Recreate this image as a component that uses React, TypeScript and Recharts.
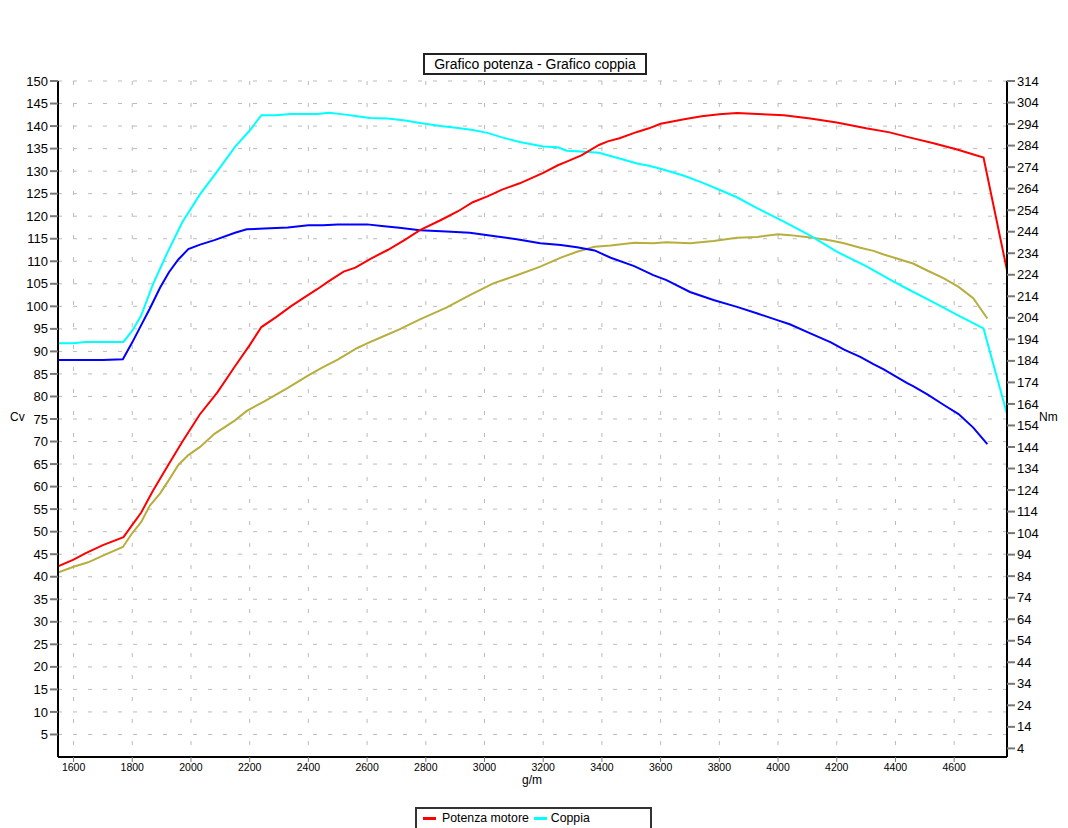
import { LineChart, Line, XAxis, YAxis, CartesianGrid } from 'recharts'

// run 1 (red / cyan)
const run1Rpm = [1547, 1600, 1640, 1700, 1770, 1800, 1830, 1870, 1920, 1970, 2030, 2090, 2150, 2200, 2240, 2290, 2340, 2380, 2430, 2470, 2520, 2560, 2610, 2670, 2730, 2780, 2850, 2910, 2960, 3010, 3060, 3120, 3200, 3250, 3280, 3330, 3390, 3420, 3460, 3520, 3560, 3600, 3680, 3740, 3800, 3860, 3930, 4020, 4110, 4200, 4300, 4380, 4440, 4530, 4610, 4700, 4780]
const run1Potenza = [42.3, 43.8, 45.2, 47.0, 48.8, 51.5, 54.2, 59.0, 64.5, 69.9, 76.0, 80.9, 86.7, 91.4, 95.4, 97.6, 100.0, 101.7, 103.8, 105.6, 107.7, 108.6, 110.5, 112.5, 114.8, 116.9, 119.1, 121.1, 123.1, 124.4, 125.9, 127.3, 129.6, 131.3, 132.1, 133.5, 135.8, 136.6, 137.3, 138.7, 139.5, 140.5, 141.5, 142.2, 142.6, 142.9, 142.7, 142.4, 141.7, 140.8, 139.5, 138.6, 137.6, 136.2, 134.8, 133.0, 108.0]
const run1Coppia = [192.2, 192.2, 192.8, 192.8, 192.8, 198.0, 204.9, 219.4, 234.4, 248.3, 261.2, 272.1, 283.4, 291.0, 298.1, 298.1, 298.7, 298.7, 298.7, 299.3, 298.5, 297.7, 296.8, 296.6, 295.6, 294.5, 293.1, 292.2, 291.2, 289.9, 287.8, 285.7, 283.6, 283.2, 281.6, 281.3, 280.7, 279.5, 278.0, 275.7, 274.6, 273.2, 270.0, 266.9, 263.5, 260.0, 254.8, 248.7, 242.2, 234.7, 228.0, 221.9, 217.5, 211.2, 205.4, 199.1, 159.3]

// run 2 (olive / blue)
const run2Rpm = [1547, 1600, 1650, 1700, 1768, 1800, 1830, 1860, 1895, 1925, 1957, 1991, 2031, 2080, 2150, 2190, 2250, 2330, 2400, 2450, 2500, 2565, 2600, 2650, 2710, 2780, 2870, 2950, 3030, 3110, 3190, 3260, 3315, 3375, 3430, 3510, 3575, 3620, 3700, 3780, 3860, 3930, 4000, 4040, 4110, 4180, 4225, 4280, 4325, 4360, 4405, 4440, 4460, 4510, 4565, 4615, 4665, 4713]
const run2Potenza = [40.9, 42.2, 43.2, 44.7, 46.6, 49.7, 52.1, 55.8, 58.5, 61.5, 64.8, 67.0, 68.8, 71.7, 74.7, 76.8, 78.9, 81.9, 84.7, 86.5, 88.2, 90.7, 91.8, 93.2, 94.9, 97.1, 99.7, 102.5, 105.1, 106.9, 108.8, 110.8, 112.1, 113.2, 113.5, 114.1, 114.0, 114.2, 114.0, 114.5, 115.2, 115.4, 116.0, 115.8, 115.3, 114.6, 114.0, 113.0, 112.3, 111.5, 110.6, 109.9, 109.5, 107.9, 106.2, 104.3, 101.8, 97.3]
const run2Coppia = [184.4, 184.4, 184.4, 184.4, 184.8, 192.6, 200.5, 208.3, 218.1, 225.2, 231.1, 235.9, 238.0, 240.1, 243.5, 245.1, 245.5, 246.0, 247.0, 247.0, 247.4, 247.4, 247.4, 246.6, 245.8, 244.7, 244.1, 243.5, 242.0, 240.5, 238.6, 237.8, 236.8, 235.3, 231.9, 228.0, 223.8, 221.5, 216.0, 212.3, 209.1, 206.0, 202.8, 201.0, 196.8, 192.6, 189.2, 185.9, 182.5, 180.0, 176.5, 173.7, 172.3, 168.3, 163.5, 159.3, 153.0, 145.3]

const xTicks = [1600, 1800, 2000, 2200, 2400, 2600, 2800, 3000, 3200, 3400, 3600, 3800, 4000, 4200, 4400, 4600]
const cvTicks = [5, 10, 15, 20, 25, 30, 35, 40, 45, 50, 55, 60, 65, 70, 75, 80, 85, 90, 95, 100, 105, 110, 115, 120, 125, 130, 135, 140, 145, 150]
const nmTicks = [4, 14, 24, 34, 44, 54, 64, 74, 84, 94, 104, 114, 124, 134, 144, 154, 164, 174, 184, 194, 204, 214, 224, 234, 244, 254, 264, 274, 284, 294, 304, 314]

const run1 = run1Rpm.map((rpm, i) => ({ rpm, potenza: run1Potenza[i], coppia: run1Coppia[i] }))
const run2 = run2Rpm.map((rpm, i) => ({ rpm, potenza: run2Potenza[i], coppia: run2Coppia[i] }))

const font = '"Liberation Sans", Arial, sans-serif'

export default function App() {
  return (
    <div style={{ position: 'absolute', left: 0, top: 0, width: 1068, height: 828, overflow: 'hidden', background: '#fff', fontFamily: font }}>
      <div
        style={{
          position: 'absolute', left: 423, top: 53, width: 220, height: 18,
          border: '2px solid #222', fontSize: 14, lineHeight: '18px', textAlign: 'center', color: '#000',
        }}
      >
        Grafico potenza - Grafico coppia
      </div>
      <div style={{ position: 'absolute', left: 10, top: 410, fontSize: 12 }}>Cv</div>
      <div style={{ position: 'absolute', left: 1039, top: 410, fontSize: 12 }}>Nm</div>
      <div style={{ position: 'absolute', left: 522, top: 773, fontSize: 12 }}>g/m</div>

      <div style={{ position: 'absolute', top: 0, left: 0 }}>
        <LineChart width={1068} height={828} margin={{ top: 81, right: 0, bottom: 0, left: 0 }}>
          <CartesianGrid yAxisId="left" vertical={false} stroke="#bbb" strokeDasharray="4 11" />
          <CartesianGrid yAxisId="left" horizontal={false} stroke="#bbb" strokeDasharray="4 18" />
          <XAxis
            dataKey="rpm"
            type="number"
            domain={[1547, 4780]}
            ticks={xTicks}
            allowDataOverflow
            height={71}
            stroke="#000"
            strokeWidth={2}
            tickSize={5}
            tick={{ fontSize: 10.5, fill: '#000', fontFamily: font }}
            tickLine={{ stroke: '#777', strokeWidth: 1 }}
          />
          <YAxis
            yAxisId="left"
            type="number"
            domain={[0, 150]}
            ticks={cvTicks}
            width={58}
            stroke="#000"
            strokeWidth={2}
            tickSize={8}
            interval={0}
            tick={{ fontSize: 13, fill: '#000', fontFamily: font }}
            tickLine={{ stroke: '#777', strokeWidth: 2 }}
          />
          <YAxis
            yAxisId="right"
            orientation="right"
            type="number"
            domain={[0, 314]}
            ticks={nmTicks}
            width={61}
            stroke="#000"
            strokeWidth={2}
            tickSize={8}
            interval={0}
            tick={{ fontSize: 13, fill: '#000', fontFamily: font }}
            tickLine={{ stroke: '#777', strokeWidth: 2 }}
          />
          <Line data={run2} dataKey="potenza" yAxisId="left" stroke="#b8ae3e" strokeWidth={2} dot={false} isAnimationActive={false} />
          <Line data={run2} dataKey="coppia" yAxisId="right" stroke="#0000ff" strokeWidth={2} dot={false} isAnimationActive={false} />
          <Line data={run1} dataKey="coppia" yAxisId="right" stroke="#00ffff" strokeWidth={2} dot={false} isAnimationActive={false} />
          <Line data={run1} dataKey="potenza" yAxisId="left" stroke="#ff0000" strokeWidth={2} dot={false} isAnimationActive={false} />
        </LineChart>
      </div>

      <div
        style={{
          position: 'absolute', left: 415, top: 807, width: 233, height: 40,
          border: '2px solid #333', fontSize: 12.3, color: '#000',
        }}
      >
        <div style={{ display: 'flex', alignItems: 'center', paddingLeft: 6, paddingTop: 2, lineHeight: '15px' }}>
          <span style={{ display: 'inline-block', width: 13, height: 3, background: '#ff0000', marginRight: 6 }} />
          <span>Potenza motore</span>
          <span style={{ display: 'inline-block', width: 13, height: 3, background: '#00ffff', marginLeft: 5, marginRight: 4 }} />
          <span>Coppia</span>
        </div>
      </div>
    </div>
  )
}
